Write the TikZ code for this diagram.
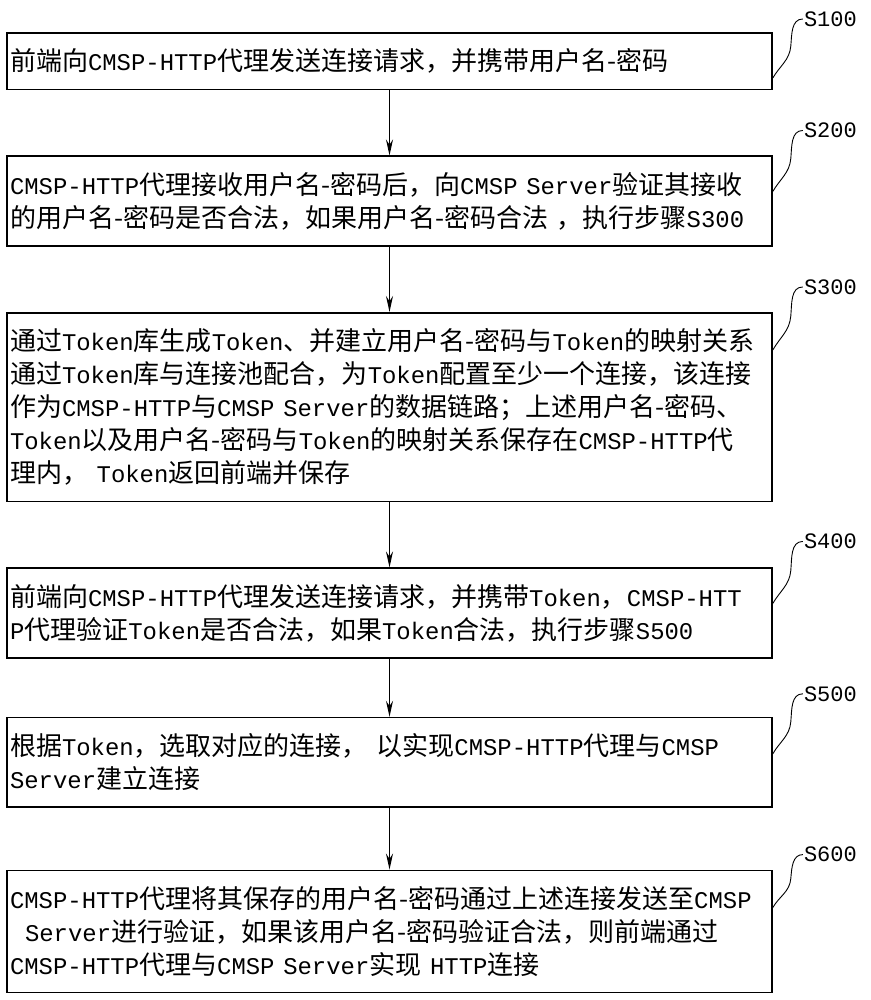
\documentclass[tikz,border=0pt]{standalone}
\usepackage{fontspec}
\setmainfont{Noto Sans CJK SC}
\newfontfamily\enfont{Liberation Mono}[Scale=0.92]
\newfontfamily\tagfont{Liberation Mono}
\newcommand\en[1]{{\enfont #1}}
\usetikzlibrary{positioning,arrows.meta}

\begin{document}
\begin{tikzpicture}[x=1pt,y=1pt,>={Stealth[length=16pt,width=7pt]},node distance=65pt]
  \tikzstyle{stepbox}=[draw,line width=1.6pt,text width=759pt,
    inner xsep=3pt,inner ysep=16pt,align=left,
    font=\fontsize{26}{33}\selectfont]
  \tikzstyle{steptag}=[anchor=west,inner sep=1pt,
    font=\tagfont\fontsize{22}{22}\selectfont]
  \tikzstyle{tagline}=[line width=0.9pt]
  \useasboundingbox (0,0) rectangle (870,-1000);
  % steps
  \node[stepbox,anchor=north] (s100) at (389.5,-32)
    {前端向\en{CMSP-HTTP}代理发送连接请求，并携带用户名-密码};
  \node[stepbox,below=of s100] (s200)
    {\en{CMSP-HTTP}代理接收用户名-密码后，向\en{CMSP Server}验证其接收\\
     的用户名-密码是否合法，如果用户名-密码合法 ，执行步骤\en{S300}};
  \node[stepbox,below=of s200] (s300)
    {通过\en{Token}库生成\en{Token}、并建立用户名-密码与\en{Token}的映射关系\\
     通过\en{Token}库与连接池配合，为\en{Token}配置至少一个连接，该连接\\
     作为\en{CMSP-HTTP}与\en{CMSP Server}的数据链路；上述用户名-密码、\\
     \en{Token}以及用户名-密码与\en{Token}的映射关系保存在\en{CMSP-HTTP}代\\
     理内， \en{Token}返回前端并保存};
  \node[stepbox,below=of s300] (s400)
    {前端向\en{CMSP-HTTP}代理发送连接请求，并携带\en{Token}，\en{CMSP-HTT}\\
     \en{P}代理验证\en{Token}是否合法，如果\en{Token}合法，执行步骤\en{S500}};
  \node[stepbox,below=58pt of s400] (s500)
    {根据\en{Token}，选取对应的连接， 以实现\en{CMSP-HTTP}代理与\en{CMSP}\\
     \en{Server}建立连接};
  \node[stepbox,below=62pt of s500] (s600)
    {\en{CMSP-HTTP}代理将其保存的用户名-密码通过上述连接发送至\en{CMSP}\\
     \hspace*{15pt}\en{Server}进行验证，如果该用户名-密码验证合法，则前端通过\\
     \en{CMSP-HTTP}代理与\en{CMSP Server}实现 \en{HTTP}连接};
  \draw[->,line width=1.3pt] (s100.south)--(s200.north);
  \draw[->,line width=1.3pt] (s200.south)--(s300.north);
  \draw[->,line width=1.3pt] (s300.south)--(s400.north);
  \draw[->,line width=1.3pt] (s400.south)--(s500.north);
  \draw[->,line width=1.3pt] (s500.south)--(s600.north);
  % step numbers
  \node[steptag] (t100) at ([xshift=30pt,yshift=13pt]s100.north east) {S100};
  \node[steptag] (t200) at ([xshift=30pt,yshift=25pt]s200.north east) {S200};
  \node[steptag] (t300) at ([xshift=30pt,yshift=25pt]s300.north east) {S300};
  \node[steptag] (t400) at ([xshift=30pt,yshift=26pt]s400.north east) {S400};
  \node[steptag] (t500) at ([xshift=30pt,yshift=23pt]s500.north east) {S500};
  \node[steptag] (t600) at ([xshift=30pt,yshift=15pt]s600.north east) {S600};
  \draw[tagline] ([yshift=-46pt]s100.north east) to[out=60,in=-95] ++(18pt,32pt) to[out=85,in=180] (t100.west);
  \draw[tagline] ([yshift=-36pt]s200.north east) to[out=60,in=-95] ++(18pt,33pt) to[out=85,in=180] (t200.west);
  \draw[tagline] ([yshift=-38pt]s300.north east) to[out=60,in=-95] ++(18pt,34pt) to[out=85,in=180] (t300.west);
  \draw[tagline] ([yshift=-36pt]s400.north east) to[out=60,in=-95] ++(18pt,33pt) to[out=85,in=180] (t400.west);
  \draw[tagline] ([yshift=-37pt]s500.north east) to[out=60,in=-95] ++(18pt,32pt) to[out=85,in=180] (t500.west);
  \draw[tagline] ([yshift=-38pt]s600.north east) to[out=60,in=-95] ++(18pt,29pt) to[out=85,in=180] (t600.west);
\end{tikzpicture}
\end{document}
